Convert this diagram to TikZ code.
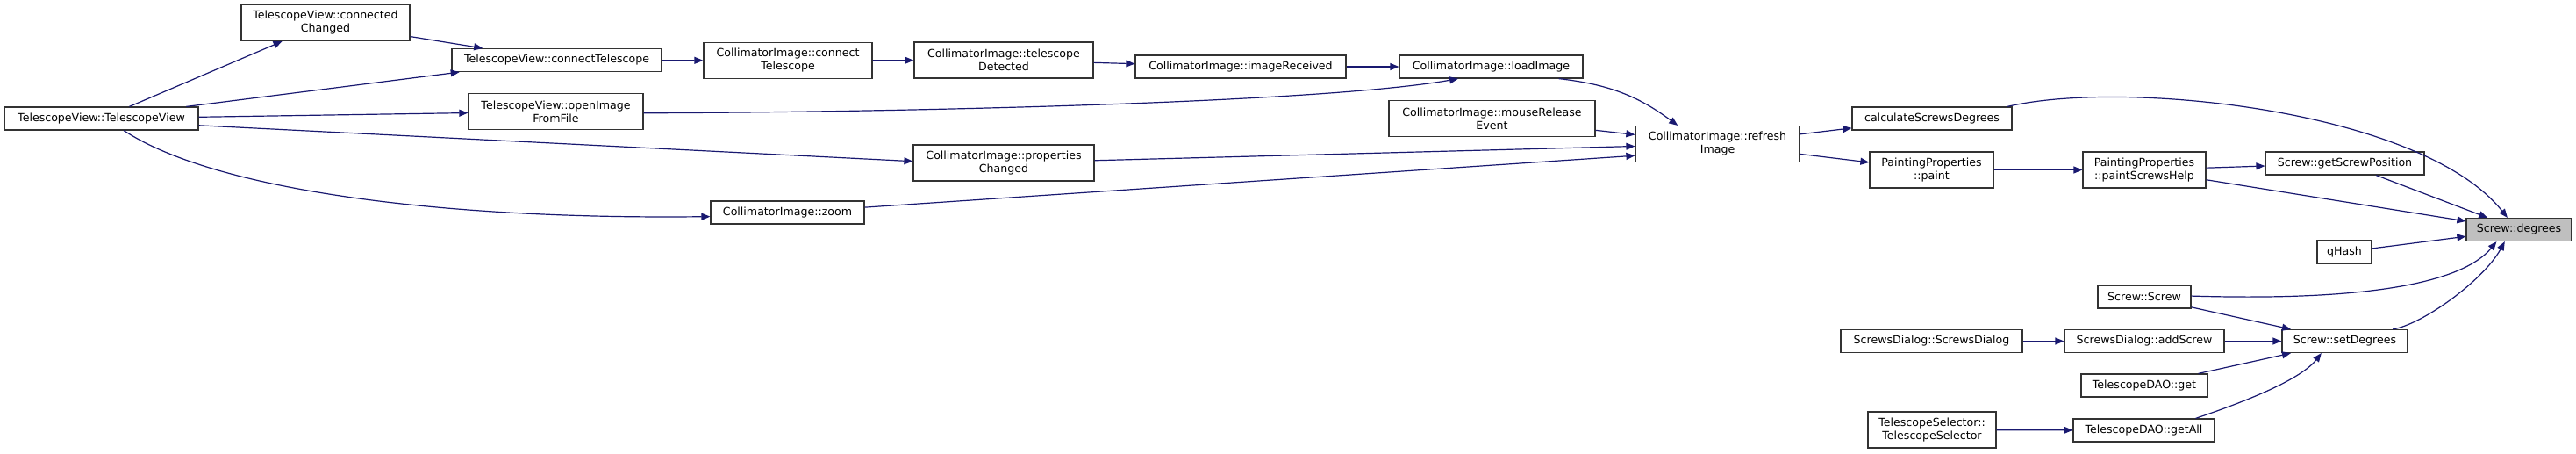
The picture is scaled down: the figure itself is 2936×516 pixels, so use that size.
\documentclass[tikz,border=0pt]{standalone}
\usepackage{fontspec}
\setmainfont{DejaVu Sans}
\usetikzlibrary{arrows.meta}
\definecolor{edgeblue}{RGB}{25,25,112}
\definecolor{rootgray}{RGB}{191,191,191}
\tikzset{
  fn/.style={draw=black!80, line width=0.6pt, fill=white, inner sep=0pt, align=center,
    font=\fontsize{6.3}{7.5}\selectfont, minimum height=13pt},
  fn2/.style={fn, minimum height=20.5pt},
  rootfn/.style={fn, fill=rootgray},
  call/.style={-{Triangle[length=5pt, width=4pt]}, edgeblue, line width=0.6pt},
}

\begin{document}
\begin{tikzpicture}[x=0.5pt, y=-0.5pt]
  \useasboundingbox (0,0) rectangle (2936,516);
  \node[fn, minimum width=110.5pt] (tvtv) at (115.5,135) {TelescopeView::TelescopeView};
  \node[fn2, minimum width=96pt] (conchg) at (371,26) {TelescopeView::connected\\Changed};
  \node[fn, minimum width=119.5pt] (contel) at (634.5,68.5) {TelescopeView::connectTelescope};
  \node[fn2, minimum width=99.5pt] (openimg) at (633.5,127) {TelescopeView::openImage\\FromFile};
  \node[fn2, minimum width=96pt] (ciconn) at (898,69) {CollimatorImage::connect\\Telescope};
  \node[fn, minimum width=87.5pt] (zoom) at (897.5,242) {CollimatorImage::zoom};
  \node[fn2, minimum width=102pt] (teldet) at (1144,68.5) {CollimatorImage::telescope\\Detected};
  \node[fn2, minimum width=103pt] (propchg) at (1144,185.5) {CollimatorImage::properties\\Changed};
  \node[fn, minimum width=120pt] (imgrcv) at (1414,76) {CollimatorImage::imageReceived};
  \node[fn, minimum width=104.5pt] (loadimg) at (1699.5,76) {CollimatorImage::loadImage};
  \node[fn2, minimum width=117.5pt] (mouserel) at (1700.5,135) {CollimatorImage::mouseRelease\\Event};
  \node[fn2, minimum width=93.5pt] (refresh) at (1957.5,164) {CollimatorImage::refresh\\Image};
  \node[fn, minimum width=91pt] (calcdeg) at (2202,135) {calculateScrewsDegrees};
  \node[fn2, minimum width=70.5pt] (paint) at (2201.5,193.5) {PaintingProperties\\::paint};
  \node[fn2, minimum width=70pt] (painthelp) at (2444,193.5) {PaintingProperties\\::paintScrewsHelp};
  \node[fn, minimum width=90.5pt] (getpos) at (2672.5,186) {Screw::getScrewPosition};
  \node[rootfn, minimum width=60pt] (degrees) at (2871,261.5) {Screw::degrees};
  \node[fn, minimum width=31pt] (qhash) at (2672,287) {qHash};
  \node[fn, minimum width=53pt] (screw) at (2444,338) {Screw::Screw};
  \node[fn, minimum width=103.5pt] (dlg) at (2201.5,388.5) {ScrewsDialog::ScrewsDialog};
  \node[fn, minimum width=91pt] (addscrew) at (2444,388.5) {ScrewsDialog::addScrew};
  \node[fn, minimum width=71.5pt] (setdeg) at (2672.5,388.5) {Screw::setDegrees};
  \node[fn, minimum width=72pt] (daoget) at (2444,439) {TelescopeDAO::get};
  \node[fn2, minimum width=73pt] (telsel) at (2202,489.5) {TelescopeSelector::\\TelescopeSelector};
  \node[fn, minimum width=80.5pt] (getall) at (2443.5,490) {TelescopeDAO::getAll};

  \draw[call] (tvtv) -- (conchg);
  \draw[call] (conchg) -- (contel);
  \draw[call] (tvtv.8) -- (contel.187);
  \draw[call] (tvtv) -- (openimg);
  \draw[call] (tvtv.-4) -- (propchg.179);
  \draw[call] (tvtv.-28) .. controls (250,220) and (520,250) .. (zoom.183);
  \draw[call] (contel) -- (ciconn);
  \draw[call] (ciconn) -- (teldet);
  \draw[call] (teldet) -- (imgrcv);
  \draw[call] (imgrcv) -- (loadimg);
  \draw[call] (openimg.-1) .. controls (1000,128) and (1500,118) .. (loadimg.-160);
  \draw[call] (loadimg.-10) to[bend left=15] (refresh.155);
  \draw[call] (mouserel) -- (refresh);
  \draw[call] (propchg) -- (refresh);
  \draw[call] (zoom) -- (refresh.188);
  \draw[call] (refresh) -- (calcdeg);
  \draw[call] (refresh) -- (paint);
  \draw[call] (paint) -- (painthelp);
  \draw[call] (painthelp) -- (getpos);
  \draw[call] (painthelp) -- (degrees);
  \draw[call] (getpos) -- (degrees);
  \draw[call] (calcdeg.9.5) .. controls (2420,90) and (2760,125) .. (degrees.134);
  \draw[call] (qhash) -- (degrees);
  \draw[call] (screw.1) .. controls (2660,342) and (2800,330) .. (degrees.208);
  \draw[call] (screw) -- (setdeg);
  \draw[call] (setdeg.14.5) .. controls (2760,370) and (2830,320) .. (degrees.220);
  \draw[call] (dlg) -- (addscrew);
  \draw[call] (addscrew) -- (setdeg);
  \draw[call] (daoget) -- (setdeg);
  \draw[call] (telsel) -- (getall);
  \draw[call] (getall.13.7) .. controls (2545,462) and (2620,435) .. (setdeg.207);
\end{tikzpicture}
\end{document}
